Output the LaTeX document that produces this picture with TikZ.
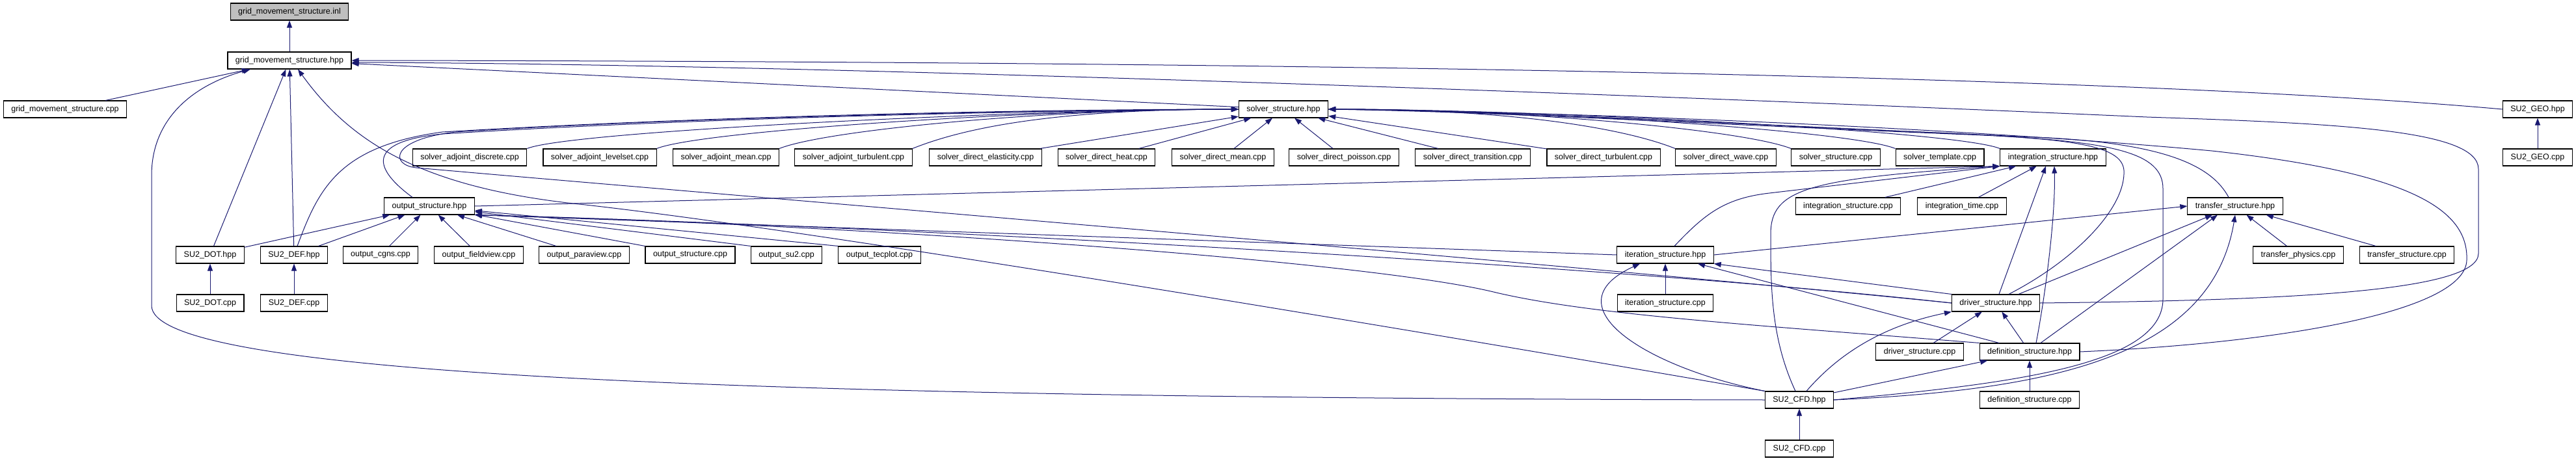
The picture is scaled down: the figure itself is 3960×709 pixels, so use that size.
\documentclass[tikz,border=0pt]{standalone}
\usepackage{fontspec}
\setmainfont{Liberation Sans}
\usepackage{xcolor}
\usepackage{tikz}
\usetikzlibrary{arrows.meta}
\definecolor{depblue}{HTML}{191970}

\begin{document}
\begin{tikzpicture}[
    x=1pt, y=-1pt,
    file/.style={rectangle, draw=black, line width=1.1pt, fill=white, minimum height=26pt, inner xsep=12pt, inner ysep=1pt, font=\fontsize{12.5}{15}\selectfont},
    dep/.style={draw=depblue, line width=1pt, -{Triangle[length=11pt, width=8pt]}}
]
    \useasboundingbox (0,0) rectangle (3960,709);

    % Headers on top
    \node[file, fill=black!25] (inl) at (445,18) {grid\_movement\_structure.inl};
    \node[file] (gmhpp) at (445,93) {grid\_movement\_structure.hpp};
    \node[file] (gmcpp) at (100,168) {grid\_movement\_structure.cpp};
    \node[file] (solverhpp) at (1973,168) {solver\_structure.hpp};
    \node[file] (geohpp) at (3901,168) {SU2\_GEO.hpp};

    % Solver sources
    \node[file] (adjdisc) at (722,242) {solver\_adjoint\_discrete.cpp};
    \node[file] (adjlvl) at (922,242) {solver\_adjoint\_levelset.cpp};
    \node[file] (adjmean) at (1116,242) {solver\_adjoint\_mean.cpp};
    \node[file] (adjturb) at (1312,242) {solver\_adjoint\_turbulent.cpp};
    \node[file] (direlast) at (1515,242) {solver\_direct\_elasticity.cpp};
    \node[file] (dirheat) at (1701,242) {solver\_direct\_heat.cpp};
    \node[file] (dirmean) at (1880,242) {solver\_direct\_mean.cpp};
    \node[file] (dirpoi) at (2066,242) {solver\_direct\_poisson.cpp};
    \node[file] (dirtrans) at (2264,242) {solver\_direct\_transition.cpp};
    \node[file] (dirturb) at (2465,242) {solver\_direct\_turbulent.cpp};
    \node[file] (dirwave) at (2653,242) {solver\_direct\_wave.cpp};
    \node[file] (solvcpp) at (2822,242) {solver\_structure.cpp};
    \node[file] (solvtmpl) at (2982,242) {solver\_template.cpp};
    \node[file] (inthpp) at (3156,242) {integration\_structure.hpp};
    \node[file] (geocpp) at (3901,242) {SU2\_GEO.cpp};

    % Output, integration, transfer
    \node[file] (outhpp) at (660,317) {output\_structure.hpp};
    \node[file] (intcpp) at (2841,317) {integration\_structure.cpp};
    \node[file] (inttime) at (3016,317) {integration\_time.cpp};
    \node[file] (trfhpp) at (3436,317) {transfer\_structure.hpp};

    \node[file] (dothpp) at (323,392) {SU2\_DOT.hpp};
    \node[file] (defhpp) at (452,392) {SU2\_DEF.hpp};
    \node[file] (outcgns) at (585,392) {output\_cgns.cpp};
    \node[file] (outfv) at (736,392) {output\_fieldview.cpp};
    \node[file] (outpv) at (898,392) {output\_paraview.cpp};
    \node[file] (outcpp) at (1061,392) {output\_structure.cpp};
    \node[file] (outsu2) at (1209,392) {output\_su2.cpp};
    \node[file] (outtec) at (1352,392) {output\_tecplot.cpp};
    \node[file] (ithpp) at (2560,392) {iteration\_structure.hpp};
    \node[file] (trfphys) at (3533,392) {transfer\_physics.cpp};
    \node[file] (trfcpp) at (3700,392) {transfer\_structure.cpp};

    \node[file] (dotcpp) at (323,466) {SU2\_DOT.cpp};
    \node[file] (defcpp) at (452,466) {SU2\_DEF.cpp};
    \node[file] (itcpp) at (2560,466) {iteration\_structure.cpp};
    \node[file] (drvhpp) at (3068,466) {driver\_structure.hpp};

    \node[file] (drvcpp) at (2951,541) {driver\_structure.cpp};
    \node[file] (defnhpp) at (3120,541) {definition\_structure.hpp};

    \node[file] (cfdhpp) at (2766,615) {SU2\_CFD.hpp};
    \node[file] (defncpp) at (3120,615) {definition\_structure.cpp};
    \node[file] (cfdcpp) at (2766,690) {SU2\_CFD.cpp};

    % Includes of grid_movement_structure.hpp
    \draw[dep] (gmhpp) -- (inl);
    \draw[dep] (gmcpp) -- (gmhpp);
    \draw[dep] (dothpp) -- (gmhpp);
    \draw[dep] (defhpp) -- (gmhpp);
    \draw[dep] (solverhpp) -- (gmhpp);
    \draw[dep] (geohpp.west) .. controls (3400,128) and (2400,95) .. (gmhpp.east);
    \draw[dep] (drvhpp.east) .. controls (3500,462) and (3810,450) .. (3810,390) -- (3810,260) .. controls (3810,200) and (3600,190) .. (3300,180) .. controls (2400,140) and (1200,98) .. ([yshift=-3pt]gmhpp.east);
    \draw[dep] (cfdhpp.west) .. controls (1000,612) and (233,570) .. (233,470) -- (233,270) .. controls (233,180) and (300,130) .. ([xshift=-60pt]gmhpp.south);
    \draw[dep] (cfdhpp.north west) .. controls (2300,530) and (1300,360) .. (900,315) .. controls (650,290) and (540,220) .. ([xshift=13pt]gmhpp.south);
    \draw[dep] (geocpp) -- (geohpp);

    % Includes of solver_structure.hpp
    \foreach \n in {adjdisc,adjlvl,adjmean,adjturb}
        \draw[dep] (\n.north east) .. controls +(70,-28) and +(-300,0) .. (solverhpp.west);
    \foreach \n in {direlast,dirheat,dirmean,dirpoi,dirtrans,dirturb}
        \draw[dep] (\n) -- (solverhpp);
    \foreach \n in {dirwave,solvcpp,solvtmpl,inthpp}
        \draw[dep] (\n.north west) .. controls +(-70,-28) and +(300,0) .. (solverhpp.east);
    \draw[dep] ([xshift=-26pt]outhpp.north) .. controls (575,260) and (560,218) .. (680,206) .. controls (1100,180) and (1600,170) .. (solverhpp.west);
    \draw[dep] ([xshift=5pt]defhpp.north) .. controls (490,290) and (520,225) .. (680,203) .. controls (1100,178) and (1600,168) .. (solverhpp.west);
    \draw[dep] (drvhpp.west) .. controls (2450,410) and (1000,290) .. (640,258) .. controls (600,254) and (598,215) .. (700,203) .. controls (1100,178) and (1600,170) .. (solverhpp.west);
    \draw[dep] (cfdhpp.east) .. controls (3100,590) and (3325,560) .. (3325,460) -- (3325,290) .. controls (3325,235) and (3250,218) .. (3050,208) .. controls (2600,190) and (2300,172) .. (solverhpp.east);
    \draw[dep] ([xshift=20pt]drvhpp.north) .. controls (3190,400) and (3268,320) .. (3265,262) .. controls (3262,222) and (3180,214) .. (3000,205) .. controls (2600,188) and (2300,170) .. (solverhpp.east);
    \draw[dep] (defnhpp.east) .. controls (3500,528) and (3790,480) .. (3792,400) .. controls (3795,320) and (3700,265) .. (3400,232) .. controls (3000,195) and (2400,172) .. (solverhpp.east);
    \draw[dep] ([xshift=-10pt]trfhpp.north) .. controls (3400,255) and (3330,222) .. (3150,212) .. controls (2700,192) and (2300,170) .. (solverhpp.east);

    % Includes of integration_structure.hpp
    \draw[dep] (intcpp) -- (inthpp);
    \draw[dep] (inttime) -- (inthpp);
    \draw[dep] (outhpp.east) -- (inthpp.south west);
    \draw[dep] ([xshift=14pt]ithpp.north) .. controls (2620,330) and (2650,305) .. (2720,297) -- (inthpp.south west);
    \draw[dep] ([xshift=-6pt]cfdhpp.north) .. controls (2722,520) and (2722,440) .. (2722,360) .. controls (2722,290) and (2780,275) .. (inthpp.south west);
    \draw[dep] ([xshift=5pt]drvhpp.north) -- ([xshift=-11pt]inthpp.south);
    \draw[dep] ([xshift=10pt]defnhpp.north) .. controls (3145,450) and (3160,330) .. ([xshift=2pt]inthpp.south);

    % Includes of transfer_structure.hpp
    \draw[dep] (trfphys) -- (trfhpp);
    \draw[dep] (trfcpp) -- (trfhpp);
    \draw[dep] (ithpp.east) -- (trfhpp.west);
    \draw[dep] ([xshift=35pt]drvhpp.north) -- ([xshift=-35pt]trfhpp.south);
    \draw[dep] ([xshift=17pt]defnhpp.north) -- ([xshift=-27pt]trfhpp.south);
    \draw[dep] (cfdhpp.east) .. controls (3150,600) and (3400,550) .. (trfhpp.south);

    % Includes of output_structure.hpp
    \draw[dep] (dothpp) -- (outhpp);
    \draw[dep] (defhpp) -- (outhpp);
    \draw[dep] (outcgns) -- (outhpp);
    \draw[dep] (outfv) -- (outhpp);
    \draw[dep] (outpv) -- (outhpp);
    \draw[dep] (outcpp.north west) -- (outhpp);
    \draw[dep] (outsu2.north west) -- (outhpp);
    \draw[dep] (outtec.north west) -- (outhpp);
    \draw[dep] (ithpp.west) -- (outhpp.south east);
    \draw[dep] (drvhpp.west) .. controls (2450,405) and (1300,345) .. (outhpp.south east);
    \draw[dep] (defnhpp.north west) .. controls (2700,500) and (2450,485) .. (2300,450) .. controls (2100,400) and (1300,345) .. (outhpp.south east);

    % Lower part
    \draw[dep] (dotcpp) -- (dothpp);
    \draw[dep] (defcpp) -- (defhpp);
    \draw[dep] (itcpp) -- (ithpp);
    \draw[dep] (cfdhpp.north west) .. controls (2530,565) and (2380,470) .. ([xshift=-39pt]ithpp.south);
    \draw[dep] ([xshift=-47pt]defnhpp.north) -- ([xshift=50pt]ithpp.south);
    \draw[dep] (drvhpp.north west) -- (ithpp.south east);
    \draw[dep] (drvcpp) -- (drvhpp);
    \draw[dep] (defnhpp) -- (drvhpp);
    \draw[dep] ([xshift=11pt]cfdhpp.north) .. controls (2830,540) and (2900,500) .. (drvhpp.south west);
    \draw[dep] (defncpp) -- (defnhpp);
    \draw[dep] (cfdhpp) -- (defnhpp);
    \draw[dep] (cfdcpp) -- (cfdhpp);
\end{tikzpicture}
\end{document}
